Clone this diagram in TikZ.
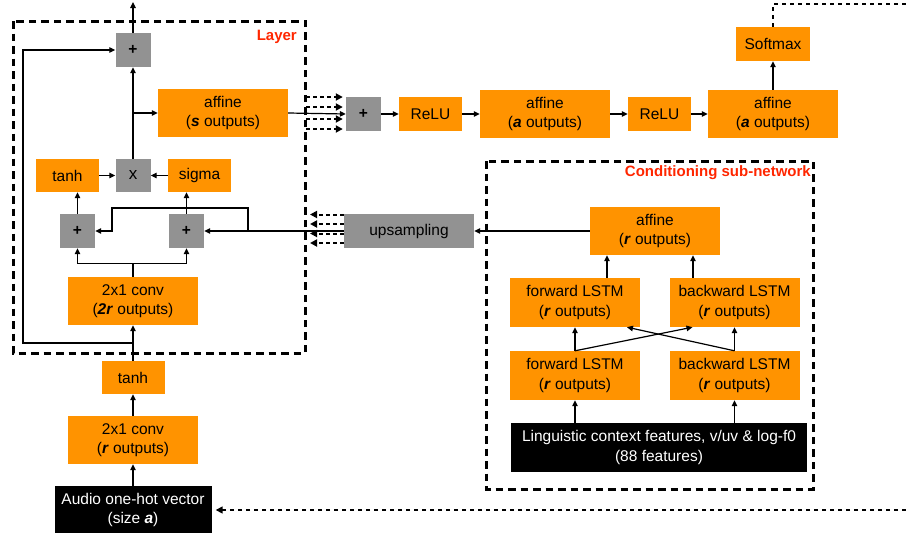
\documentclass[tikz,border=0pt]{standalone}
\usepackage{fontspec}
\setmainfont{Liberation Sans}
\usetikzlibrary{arrows.meta,calc}
\definecolor{orng}{HTML}{FF9300}
\definecolor{gry}{HTML}{929292}
\definecolor{redl}{HTML}{FF2600}
\newcommand\myfs{\fontsize{15.5}{19.5}\selectfont}
\newcommand\bi[1]{\textbf{\textit{#1}}}
\begin{document}
\begin{tikzpicture}[x=1pt,y=-1pt,
  ob/.style={fill=orng, inner sep=0pt, align=center, font=\myfs},
  gb/.style={fill=gry, inner sep=0pt, align=center, font=\myfs},
  kb/.style={fill=black, text=white, inner sep=0pt, align=center, font=\myfs},
  sz/.style 2 args={minimum width=#1pt, minimum height=#2pt},
  conn/.style={line width=1.2pt, -{Triangle[length=6pt,width=5.5pt]}},
  ln/.style={line width=1.2pt},
  frame/.style={line width=3pt, dash pattern=on 7.5pt off 5pt},
  dsh/.style={line width=2pt, dash pattern=on 4pt off 3pt, -{Triangle[length=7pt,width=7pt]}},
  fb/.style={line width=1.5pt, dash pattern=on 4pt off 4pt},
  lbl/.style={text=redl, font=\fontsize{15}{18}\selectfont\bfseries, anchor=east, inner sep=0pt}
]
\useasboundingbox (0,0) rectangle (906,533);

% frames
\draw[frame] (13,21) rectangle (305,353);
\draw[frame] (486,161) rectangle (813,489);
\node[lbl] (layerlbl) at (297,37) {Layer};
\node[lbl] (condlbl) at (811,173) {Conditioning sub-network};

% layer nodes
\node[gb, sz={35}{34}] (plustop) at (133,50) {\textbf{+}};
\node[ob, sz={130}{48}] (affS) at (223,113) {affine\\(\bi{s} outputs)};
\node[gb, sz={35}{33}] (mult) at (133,175.5) {\fontsize{17}{19}\selectfont x};
\node[ob, sz={63}{33}] (tanhA) at (67.5,175.5) {tanh};
\node[ob, sz={63}{33}] (sigma) at (199.5,175.5) {sigma};
\node[gb, sz={35}{34}] (plusL) at (77.5,231) {\textbf{+}};
\node[gb, sz={35}{34}] (plusR) at (186.5,231) {\textbf{+}};
\node[ob, sz={130}{48}] (convA) at (133,301) {2x1 conv\\(\bi{2r} outputs)};
\node[ob, sz={63}{33}] (tanhB) at (133,377.5) {tanh};
\node[ob, sz={130}{48}] (convB) at (133,440) {2x1 conv\\(\bi{r} outputs)};
\node[kb, sz={157}{48}] (audio) at (133,510) {Audio one-hot vector\\(size \bi{a})};

% output chain
\node[gb, sz={35}{34}] (plusM) at (363.5,114) {\textbf{+}};
\node[ob, sz={63}{34}] (reluA) at (430.5,114) {ReLU};
\node[ob, sz={130}{48}] (affA) at (545,114) {affine\\(\bi{a} outputs)};
\node[ob, sz={63}{34}] (reluB) at (659.5,114) {ReLU};
\node[ob, sz={130}{48}] (affB) at (773,114) {affine\\(\bi{a} outputs)};
\node[ob, sz={74}{34}] (softmax) at (773,44) {Softmax};

% conditioning
\node[gb, sz={130}{34}] (upsamp) at (409,231) {upsampling};
\node[ob, sz={130}{48}] (affR) at (655,231) {affine\\(\bi{r} outputs)};
\node[ob, sz={130}{49}] (fwdA) at (575,302.5) {forward LSTM\\(\bi{r} outputs)};
\node[ob, sz={130}{49}] (bwdA) at (734.5,302.5) {backward LSTM\\(\bi{r} outputs)};
\node[ob, sz={130}{49}] (fwdB) at (575,375.5) {forward LSTM\\(\bi{r} outputs)};
\node[ob, sz={130}{49}] (bwdB) at (734.5,375.5) {backward LSTM\\(\bi{r} outputs)};
\node[kb, sz={296}{49}] (ling) at (659,447.5) {Linguistic context features, v/uv \& log-f0\\(88 features)};

% coordinates
\coordinate (out) at (133,2);
\coordinate (lp) at (133,343);
\coordinate (lc) at (23,343);
\coordinate (br) at (248,231);
\coordinate (b1) at (248,208);
\coordinate (b2) at (112,208);
\coordinate (fbTop) at (906,4);
\coordinate (fbBot) at (906,510);

% layer connectors
\draw[conn] (plustop.north) -- (out);
\draw[conn] (mult.north) -- (plustop.south);
\draw[conn] (mult.north |- affS.west) -- (affS.west);
\draw[conn] (tanhA.east) -- (mult.west);
\draw[conn] (sigma.west) -- (mult.east);
\draw[conn] (plusL.north) -- (plusL.north |- tanhA.south);
\draw[conn] (plusR.north) -- (plusR.north |- sigma.south);
\draw[ln] (convA.north) -- ++(0,-13) coordinate (split);
\draw[conn] (split) -| (plusL.south);
\draw[conn] (split) -| (plusR.south);
\draw[conn] (upsamp.west) -- (plusR.east);
\draw[conn] (br) -- (b1) -- (b2) -- (b2 |- plusL.east) -- (plusL.east);
\draw[conn] (tanhB.north) -- (convA.south);
\draw[conn] (lp) -- (lc) |- (plustop.west);
\draw[conn] (convB.north) -- (tanhB.south);
\draw[conn] (audio.north) -- (convB.south);

% dashed inputs
\foreach \i/\y in {1/97,2/107,3/119,4/129}{
  \coordinate (d\i) at (306,\y);
  \draw[dsh, shorten >=3pt] (d\i) -- (d\i -| plusM.west);
}
\foreach \i/\y in {1/214.5,2/224,3/233.5,4/243}{
  \coordinate (u\i) at (310,\y);
  \draw[dsh] (u\i -| upsamp.west) -- (u\i);
}

% output chain connectors
\draw[conn] (affS.east) -- (plusM.west);
\draw[conn] (plusM.east) -- (reluA.west);
\draw[conn] (reluA.east) -- (affA.west);
\draw[conn] (affA.east) -- (reluB.west);
\draw[conn] (reluB.east) -- (affB.west);
\draw[conn] (affB.north) -- (softmax.south);
\draw[fb] (softmax.north) |- (fbTop);
\draw[fb, -{Triangle[length=7pt,width=7pt]}] (fbBot) -- ([xshift=4pt]audio.east);

% conditioning connectors
\draw[conn] (affR.west) -- (upsamp.east);
\draw[conn] ([xshift=32pt]fwdA.north) -- ([xshift=32pt]fwdA.north |- affR.south);
\draw[conn] ([xshift=-41.5pt]bwdA.north) -- ([xshift=-41.5pt]bwdA.north |- affR.south);
\draw[conn] (fwdB.north) -- (fwdA.south);
\draw[conn] (bwdB.north) -- (bwdA.south);
\draw[conn] (fwdB.north) -- ([xshift=-42pt]bwdA.south);
\draw[conn] (bwdB.north) -- ([xshift=52pt]fwdA.south);
\draw[conn] (ling.north -| fwdB.south) -- (fwdB.south);
\draw[conn] (ling.north -| bwdB.south) -- (bwdB.south);
\end{tikzpicture}
\end{document}
